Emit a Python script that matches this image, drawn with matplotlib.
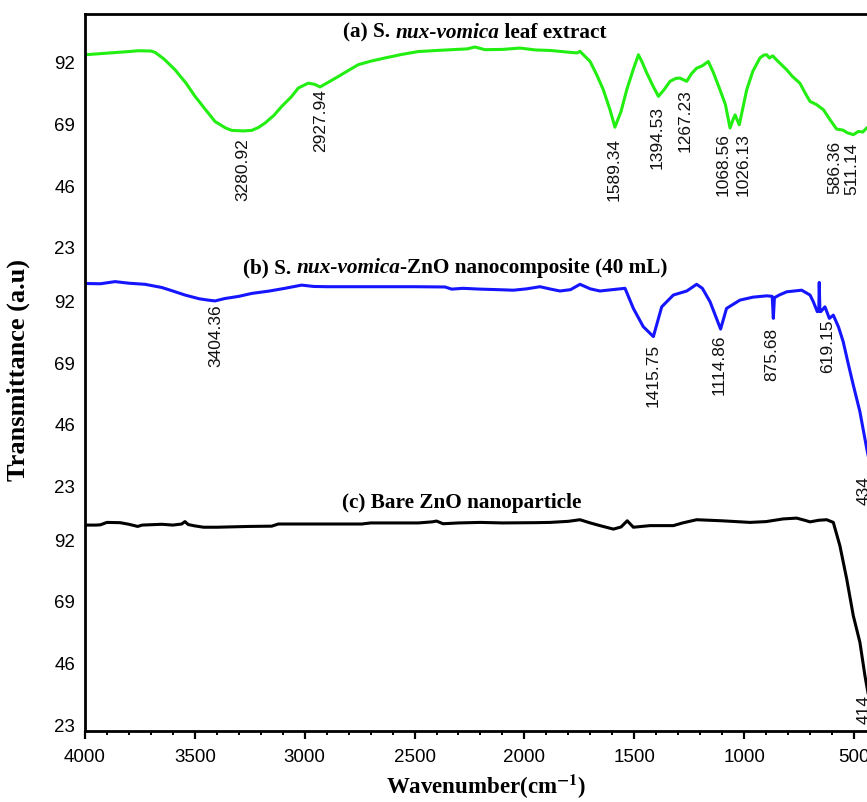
import matplotlib
matplotlib.use("Agg")
import matplotlib.pyplot as plt
from matplotlib.ticker import MultipleLocator
from matplotlib.offsetbox import TextArea, HPacker, AnnotationBbox

plt.rcParams['font.family'] = ['Liberation Sans', 'DejaVu Sans']
plt.rcParams['mathtext.fontset'] = 'stix'

# (a) S. nux-vomica leaf extract
wn_a = [4000, 3900, 3800, 3757, 3700, 3681, 3640, 3590, 3540, 3499, 3450, 3408, 3360, 3332,
        3280, 3241, 3210, 3181, 3140, 3105, 3060, 3029, 2984, 2955, 2930, 2900, 2847, 2800,
        2756, 2700, 2635, 2560, 2483, 2400, 2331, 2260, 2225, 2180, 2100, 2020, 1950, 1880,
        1830, 1792, 1760, 1747, 1701, 1670, 1641, 1610, 1588, 1560, 1534, 1505, 1481, 1465,
        1443, 1415, 1390, 1365, 1337, 1310, 1292, 1261, 1240, 1216, 1190, 1163, 1140, 1110,
        1085, 1064, 1050, 1041, 1030, 1022, 1005, 988, 960, 928, 910, 897, 885, 870, 850,
        806, 780, 746, 720, 700, 670, 639, 610, 579, 550, 530, 503, 480, 460, 442, 420]
tr_a = [94.6, 95.2, 95.8, 96.1, 96.0, 95.5, 93.0, 89.0, 84.0, 79.1, 74.0, 69.7, 67.3, 66.4,
        66.2, 66.4, 67.5, 69.1, 72.0, 75.3, 79.0, 82.2, 84.0, 83.6, 82.6, 84.0, 86.5, 88.8,
        90.9, 92.2, 93.4, 94.7, 95.8, 96.2, 96.5, 96.8, 97.5, 96.5, 96.6, 97.1, 96.4, 96.2,
        95.8, 95.5, 95.3, 95.9, 92.1, 87.0, 81.6, 74.0, 67.6, 73.5, 81.6, 89.0, 94.6, 92.0,
        87.8, 83.0, 79.1, 81.5, 84.7, 85.8, 85.9, 84.7, 87.5, 89.6, 90.5, 92.1, 88.0, 81.6,
        76.0, 67.3, 70.5, 72.2, 70.0, 68.5, 75.0, 81.6, 88.5, 93.4, 94.5, 94.6, 93.4, 94.2, 92.5,
        89.0, 86.5, 84.0, 80.0, 77.2, 76.0, 74.1, 70.5, 66.9, 66.5, 65.5, 64.8, 66.0, 65.8, 67.3, 68.5]

# (b) S. nux-vomica-ZnO nanocomposite (40 mL)
wn_b = [4000, 3930, 3863, 3800, 3727, 3650, 3600, 3545, 3480, 3439, 3408, 3363, 3300, 3241,
        3160, 3090, 3014, 2960, 2900, 2700, 2500, 2361, 2331, 2280, 2202, 2120, 2050, 1990,
        1929, 1880, 1838, 1790, 1747, 1700, 1656, 1600, 1542, 1504, 1459, 1413, 1375, 1322,
        1261, 1216, 1190, 1155, 1107, 1080, 1019, 960, 897, 872, 867, 862, 840, 806, 738,
        700, 685, 667, 660, 658, 655, 651, 632, 612, 594, 570, 549, 525, 503, 473, 442, 434]
tr_b = [98.3, 98.2, 99.0, 98.4, 98.0, 96.8, 95.5, 94.0, 92.6, 92.1, 91.8, 92.7, 93.5, 94.6,
        95.5, 96.5, 97.7, 97.2, 97.1, 97.1, 97.1, 97.0, 96.2, 96.5, 96.2, 96.0, 95.8, 96.3,
        97.1, 96.2, 95.5, 96.0, 98.0, 96.3, 95.5, 96.0, 96.5, 89.0, 82.2, 78.5, 89.6, 94.0,
        95.5, 98.0, 96.5, 91.5, 81.3, 89.0, 92.1, 93.2, 93.7, 93.5, 85.3, 93.0, 94.0, 95.2, 95.8,
        94.0, 91.5, 87.8, 88.0, 98.7, 88.0, 87.8, 89.6, 85.3, 86.5, 82.0, 76.6, 68.0, 60.4, 50.5, 36.8, 33.5]

# (c) Bare ZnO nanoparticle
wn_c = [4000, 3950, 3930, 3900, 3840, 3800, 3760, 3740, 3650, 3600, 3560, 3545, 3530, 3500,
        3460, 3400, 3302, 3250, 3150, 3120, 2900, 2740, 2700, 2600, 2483, 2420, 2400, 2370,
        2300, 2200, 2100, 1950, 1883, 1800, 1747, 1700, 1656, 1595, 1560, 1532, 1504, 1428,
        1322, 1280, 1216, 1100, 973, 900, 822, 761, 720, 700, 660, 624, 594, 564, 533, 503,
        473, 450, 442, 430]
tr_c = [97.2, 97.2, 97.3, 98.2, 98.1, 97.5, 96.7, 97.2, 97.5, 97.2, 97.6, 98.5, 97.4, 96.9,
        96.4, 96.4, 96.6, 96.7, 96.8, 97.6, 97.6, 97.6, 98.0, 98.0, 98.0, 98.4, 98.7, 97.7,
        98.0, 98.2, 98.0, 98.1, 98.2, 98.6, 99.2, 98.0, 97.0, 95.7, 96.5, 98.8, 96.4, 97.0,
        97.0, 98.0, 99.2, 98.8, 98.2, 98.5, 99.5, 99.8, 98.9, 98.4, 99.0, 99.2, 98.2, 89.5,
        77.1, 63.4, 53.5, 41.0, 37.3, 32.0]

# peak labels: (label x position, label, y of label top) per panel
peaks_a = [(3280.92, "3280.92", 64.0), (2927.94, "2927.94", 82.3), (1589.34, "1589.34", 64.0),
           (1394.53, "1394.53", 76.0), (1267.23, "1267.23", 82.3), (1095, "1068.56", 65.9),
           (1005, "1026.13", 65.9), (586.36, "586.36", 62.9), (511.14, "511.14", 62.2)]
peaks_b = [(3404.36, "3404.36", 90.9), (1415.75, "1415.75", 76.0), (1114.86, "1114.86", 79.7),
           (875.68, "875.68", 82.3), (619.15, "619.15", 85.3), (455, "434", 26.7)]
peaks_c = [(455, "414", 34.2)]

yticks = [23, 46, 69, 92]
offset = 89.0

fig = plt.figure(figsize=(8.67, 8.03), dpi=100)
ax = fig.add_axes([0.098, 0.0884, 0.9123, 0.8929])

panels = [
    (wn_a, tr_a, "#22ee11", 2 * offset, peaks_a, 2225, 103.2, "(a) S. ", "nux-vomica", " leaf extract"),
    (wn_b, tr_b, "#1515ff", offset, peaks_b, 2316, 104.3, "(b) S. ", "nux-vomica", "-ZnO nanocomposite (40 mL)"),
    (wn_c, tr_c, "black", 0.0, peaks_c, 2284, 105.8, "(c) Bare ZnO nanoparticle", "", ""),
]

serif = dict(family='Liberation Serif', weight='bold', size=15.3)

tick_pos = []
tick_lab = []
for wn, tr, col, off, peaks, tx, ty, t1, t2, t3 in panels:
    ax.plot(wn, [v + off for v in tr], color=col, lw=2.2)
    for x, lab, yt in peaks:
        ax.text(x, yt + off, lab, rotation=90, ha='center', va='top', fontsize=12.5, color='#111111')
    parts = [TextArea(t1, textprops=serif)]
    if t2:
        parts.append(TextArea(t2, textprops=dict(serif, style='italic')))
        parts.append(TextArea(t3, textprops=serif))
    box = HPacker(children=parts, align='baseline', pad=0, sep=0)
    ab = AnnotationBbox(box, (tx, ty + off), xycoords='data', frameon=False, box_alignment=(0.5, 0.5))
    ax.add_artist(ab)
    for t in yticks:
        tick_pos.append(t + off)
        tick_lab.append(str(t))

ax.set_xlim(4000, 400)
ax.set_ylim(20.4, 287.8)
ax.set_yticks(tick_pos)
ax.set_yticklabels(tick_lab)
ax.xaxis.set_major_locator(MultipleLocator(500))
ax.xaxis.set_minor_locator(MultipleLocator(100))
ax.tick_params(axis='x', which='major', direction='out', length=6, width=1.6, labelsize=13.5, pad=6)
ax.tick_params(axis='x', which='minor', direction='out', length=3, width=1.4)
ax.tick_params(axis='y', length=0, labelsize=13.5, pad=7)
for s in ax.spines.values():
    s.set_linewidth(2)

fig.text(486 / 867, 1 - 787 / 803, r"Wavenumber(cm$^{\mathbf{-1}}$)", ha='center', va='center',
         family='Liberation Serif', weight='bold', fontsize=16.5)
fig.text(18 / 867, 1 - 370 / 803, "Transmittance (a.u)", rotation=90, ha='center', va='center',
         family='Liberation Serif', weight='bold', fontsize=19)

fig.savefig("out.png", dpi=100)
